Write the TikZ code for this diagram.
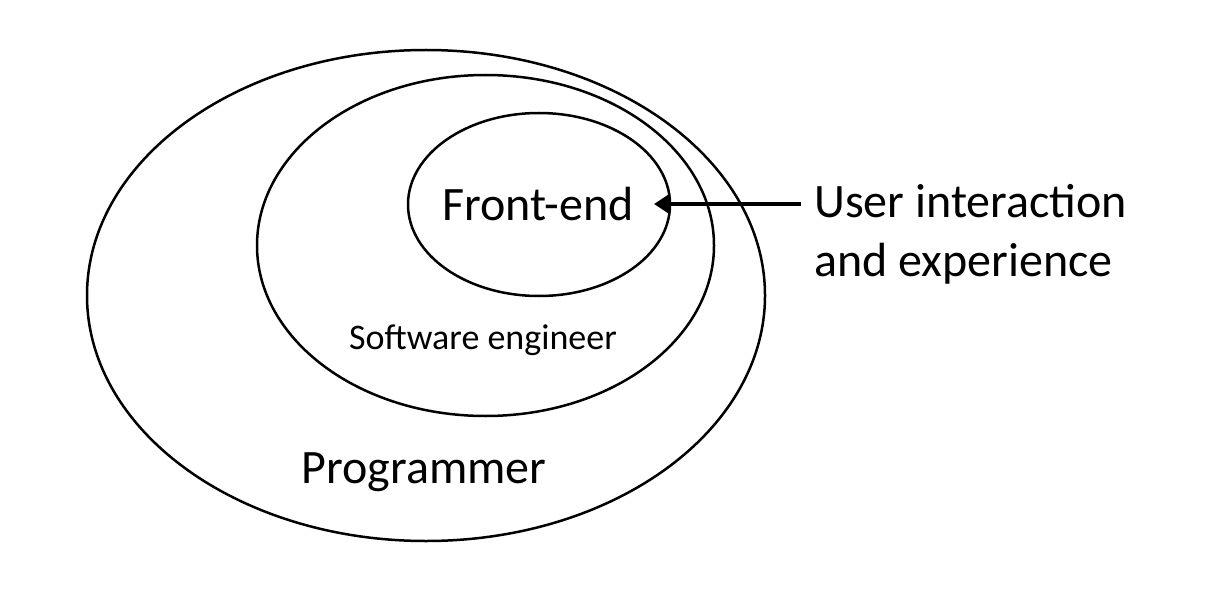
\documentclass[tikz,border=0pt]{standalone}
\usepackage{fontspec}
\setmainfont{Carlito}
\usetikzlibrary{arrows.meta}
\begin{document}
\begin{tikzpicture}[x=1pt,y=-1pt,
  ring/.style={draw=black,line width=2.5pt},
  big/.style={font=\fontsize{48}{59}\selectfont,inner sep=0pt},
  small/.style={font=\fontsize{36}{44}\selectfont,inner sep=0pt}]
\useasboundingbox[fill=white] (0,0) rectangle (1206,604);
\draw[ring] (426,295.5) ellipse [x radius=339,y radius=245.5];
\draw[ring] (485.5,245.5) ellipse [x radius=228.5,y radius=170.5];
\draw[ring] (539,204.5) ellipse [x radius=131,y radius=91.5];
\node[big] (fe) at (538,204) {Front-end};
\coordinate (tip) at (654,204);
\node[big,anchor=west,align=left] (ux) at (814,234) {User interaction\\and experience};
\node[small] (se) at (483,340) {Software engineer};
\node[big] (pr) at (424,472) {Programmer};
\draw[line width=4.5pt,-{Triangle[length=16pt,width=20pt]}] (801,204) -- (tip);
\end{tikzpicture}
\end{document}
